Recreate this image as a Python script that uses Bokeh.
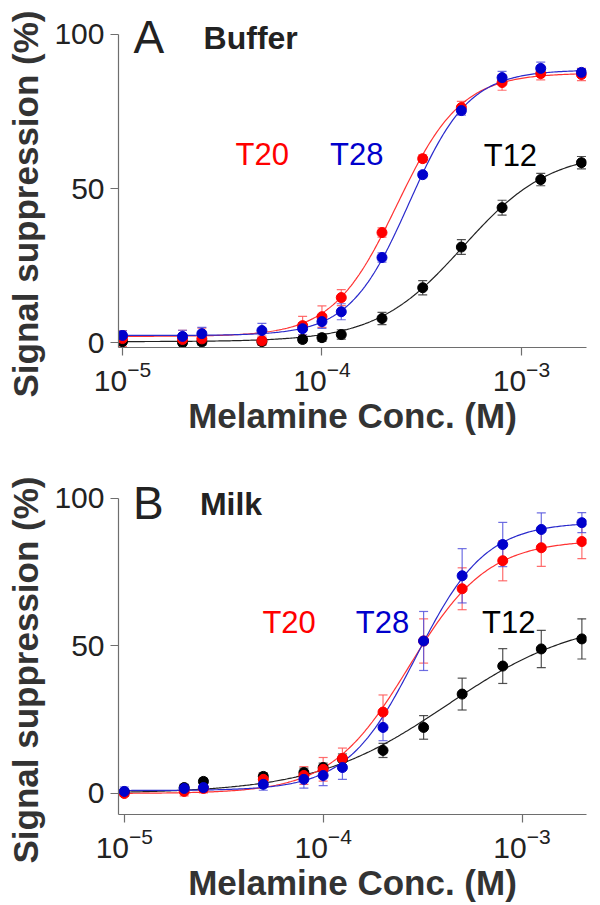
import numpy as np
from bokeh.plotting import figure
from bokeh.layouts import column
from bokeh.models import (FixedTicker, Whisker, ColumnDataSource, Label, TeeHead,
                          Range1d, LogTickFormatter, Title)
from bokeh.embed import file_html
from bokeh.resources import INLINE

# ---------------- data ----------------
conc = [1e-5, 2e-5, 2.5e-5, 5e-5, 8e-5, 1e-4, 1.25e-4, 2e-4, 3.2e-4, 5e-4, 8e-4, 1.25e-3, 2e-3]
x_ticks = [1e-5, 1e-4, 1e-3]
y_ticks = [0, 50, 100]
series_names = ["T12", "T20", "T28"]

# Panel A: Buffer
a_t12 = [0.3, 0.0, 0.2, 0.3, 1.0, 1.6, 2.6, 7.8, 17.8, 31.0, 43.8, 52.9, 58.4]
a_t12_err = [1.0, 1.0, 1.0, 1.0, 1.0, 1.2, 1.5, 2.0, 2.3, 2.4, 2.4, 2.0, 2.0]
a_t20 = [1.3, 1.0, 1.2, 0.6, 5.5, 8.4, 14.6, 35.7, 59.7, 76.3, 84.4, 87.3, 87.0]
a_t20_err = [2.6, 3.0, 3.5, 1.5, 3.0, 3.5, 2.6, 1.5, 1.2, 2.0, 2.5, 2.0, 2.0]
a_t28 = [2.3, 2.0, 2.9, 3.9, 4.5, 6.8, 10.0, 27.6, 54.5, 75.3, 86.0, 89.0, 87.7]
a_t28_err = [1.5, 2.0, 2.0, 2.3, 2.0, 2.2, 2.6, 1.5, 1.0, 1.5, 2.0, 2.0, 1.2]
# Hill fits (bottom, top, EC50, slope) for T12, T20, T28
a_fit_bottom = [0.3, 2.0, 2.3]
a_fit_top = [62.0, 87.5, 88.5]
a_fit_ec50 = [5.1e-4, 2.38e-4, 2.74e-4]
a_fit_hill = [2.0, 2.7, 2.9]

# Panel B: Milk
b_t12 = [0.5, 2.0, 4.1, 5.8, 7.1, 8.8, 11.6, 14.6, 22.4, 33.7, 43.2, 49.0, 52.4]
b_t12_err = [0.8, 1.0, 1.0, 1.2, 1.5, 1.5, 1.8, 2.4, 4.0, 5.4, 5.9, 6.3, 6.8]
b_t20 = [0.0, 0.7, 1.7, 4.8, 6.1, 8.2, 11.9, 27.6, 51.7, 69.4, 78.9, 83.3, 85.4]
b_t20_err = [1.0, 1.5, 1.5, 2.0, 3.0, 4.0, 3.5, 5.8, 7.5, 7.1, 6.8, 6.3, 5.8]
b_t28 = [0.7, 1.7, 2.0, 3.1, 4.8, 6.1, 8.8, 22.4, 51.7, 73.8, 84.4, 89.5, 91.8]
b_t28_err = [1.5, 1.5, 1.5, 2.0, 3.0, 3.4, 4.0, 4.5, 10.0, 9.2, 7.5, 5.6, 3.4]
b_fit_bottom = [0.0, 0.0, 1.0]
b_fit_top = [60.0, 86.0, 92.0]
b_fit_ec50 = [4.2e-4, 2.7e-4, 2.94e-4]
b_fit_hill = [1.3, 2.2, 2.5]

# ---------------- styles ----------------
FONT = "Liberation Sans"
point_colors = ["#000000", "#ff0000", "#0000cc"]
line_colors = ["#222222", "#ff3333", "#2a2acc"]
err_colors = ["#333333", "#ff5555", "#5555dd"]
text_colors = ["#000000", "#ff0000", "#0000cc"]


def hill(x, bottom, top, ec50, n):
    x = np.asarray(x)
    return bottom + (top - bottom) / (1.0 + (ec50 / x) ** n)


def make_panel(ys, errs, fb, ft, fe, fn, letter, name, xr, yr,
               height, b_top, b_bottom, b_left, b_right, ylab_offset,
               letter_pos, name_pos, tag_pos):
    p = figure(width=600, height=height, x_axis_type="log",
               x_range=Range1d(*xr), y_range=Range1d(*yr),
               output_backend="svg", toolbar_location=None,
               min_border_top=b_top, min_border_bottom=b_bottom,
               min_border_left=b_left, min_border_right=b_right)
    p.outline_line_color = None
    p.xgrid.visible = False
    p.ygrid.visible = False
    p.background_fill_color = "white"
    p.border_fill_color = "white"

    p.xaxis.ticker = FixedTicker(ticks=x_ticks, minor_ticks=[])
    p.xaxis.formatter = LogTickFormatter()
    p.yaxis.ticker = FixedTicker(ticks=y_ticks, minor_ticks=[])
    p.yaxis.bounds = (yr[0], 100)
    p.xaxis.axis_label = "Melamine Conc. (M)"
    for ax in (p.xaxis[0], p.yaxis[0]):
        ax.axis_line_color = "#6e6e6e"
        ax.axis_line_width = 1.2
        ax.major_tick_line_color = "#6e6e6e"
        ax.major_tick_line_width = 1.2
        ax.minor_tick_line_color = None
        ax.major_tick_out = 8
        ax.major_tick_in = 0
        ax.major_label_text_font = FONT
        ax.major_label_text_font_size = "30px"
        ax.major_label_text_color = "#222222"
        ax.axis_label_text_font = FONT
        ax.axis_label_text_font_style = "bold"
        ax.axis_label_text_font_size = "35px"
        ax.axis_label_text_color = "#333333"
    p.yaxis.major_label_standoff = 6
    p.xaxis.major_label_standoff = 5
    p.xaxis.axis_label_standoff = 2

    p.add_layout(Title(text="Signal suppression (%)", align="left",
                       vertical_align="top", offset=ylab_offset, standoff=10,
                       text_font=FONT, text_font_size="35px", text_font_style="bold",
                       text_color="#333333"), "left")

    xs = np.logspace(np.log10(conc[0]), np.log10(conc[-1]), 300)
    for i in range(3):
        p.line(xs, hill(xs, fb[i], ft[i], fe[i], fn[i]),
               line_color=line_colors[i], line_width=1.2)

    for i in range(3):
        y = np.array(ys[i]); e = np.array(errs[i])
        src = ColumnDataSource(dict(x=conc, y=y, upper=y + e, lower=y - e))
        w = Whisker(base="x", upper="upper", lower="lower", source=src,
                    dimension="height", line_color=err_colors[i], line_width=1.2,
                    line_alpha=0.85,
                    upper_head=TeeHead(size=9, line_color=err_colors[i], line_width=1.2, line_alpha=0.85),
                    lower_head=TeeHead(size=9, line_color=err_colors[i], line_width=1.2, line_alpha=0.85))
        p.add_layout(w)
        p.scatter("x", "y", source=src, size=10, fill_color=point_colors[i],
                  line_color=point_colors[i])

    p.add_layout(Label(x=letter_pos[0], y=letter_pos[1], text=letter,
                       text_font=FONT, text_font_size="46px", text_color="#222222",
                       text_baseline="middle", text_align="left"))
    p.add_layout(Label(x=name_pos[0], y=name_pos[1], text=name,
                       text_font=FONT, text_font_size="32px", text_font_style="bold",
                       text_color="#222222", text_baseline="middle", text_align="left"))
    for i in range(3):
        p.add_layout(Label(x=tag_pos[i][0], y=tag_pos[i][1], text=series_names[i],
                           text_font=FONT, text_font_size="31px",
                           text_color=text_colors[i], text_baseline="middle",
                           text_align="left"))
    return p


pa = make_panel([a_t12, a_t20, a_t28], [a_t12_err, a_t20_err, a_t28_err],
                a_fit_bottom, a_fit_top, a_fit_ec50, a_fit_hill,
                "A", "Buffer", (9.55e-6, 2.12e-3), (-1.6, 105.84),
                height=455, b_top=16, b_bottom=108, b_left=115, b_right=14,
                ylab_offset=-50,
                letter_pos=(1.135e-5, 99.2), name_pos=(2.55e-5, 98.9),
                tag_pos=[(6.47e-4, 60.7), (3.69e-5, 61.0), (1.097e-4, 61.0)])

pb = make_panel([b_t12, b_t20, b_t28], [b_t12_err, b_t20_err, b_t28_err],
                b_fit_bottom, b_fit_top, b_fit_ec50, b_fit_hill,
                "B", "Milk", (9.35e-6, 2.11e-3), (-7.12, 106.1),
                height=450, b_top=25, b_bottom=91, b_left=118, b_right=0,
                ylab_offset=-49,
                letter_pos=(1.107e-5, 98.5), name_pos=(2.4e-5, 98.0),
                tag_pos=[(6.3e-4, 57.8), (4.95e-5, 57.8), (1.46e-4, 57.8)])

layout = column(pa, pb, spacing=0)
open("out.html", "w").write(file_html(layout, INLINE))
